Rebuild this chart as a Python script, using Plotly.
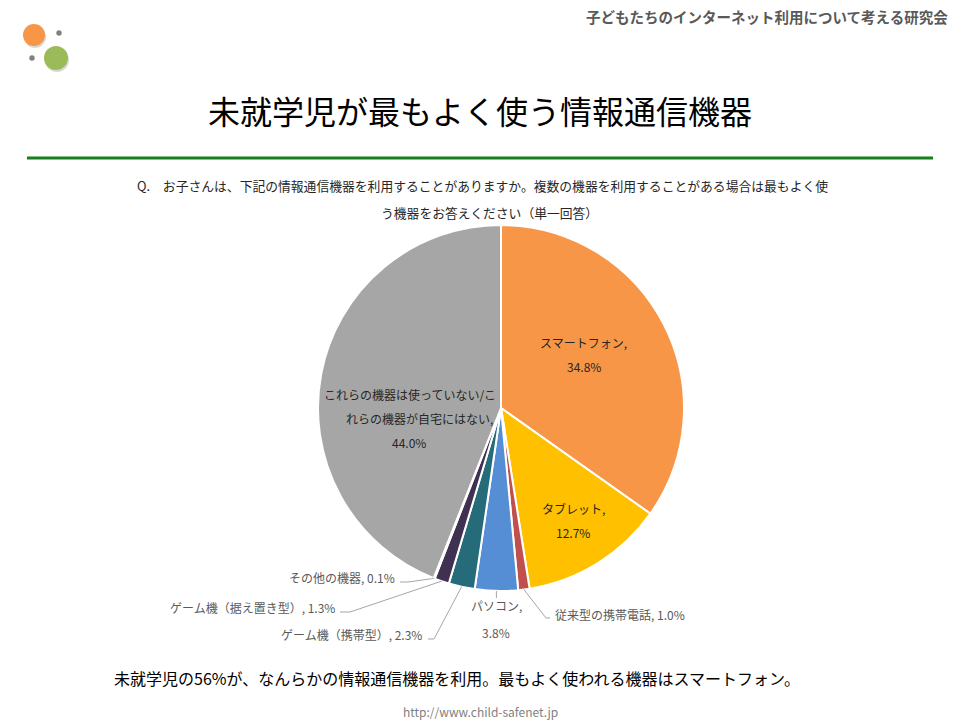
import math
import plotly.graph_objects as go

W, H = 960, 720
FONT = "Noto Sans CJK JP"

# ---- data ----
labels = ["スマートフォン", "タブレット", "従来型の携帯電話", "パソコン",
          "ゲーム機（携帯型）", "ゲーム機（据え置き型）", "その他の機器",
          "これらの機器は使っていない/これらの機器が自宅にはない"]
values = [34.8, 12.7, 1.0, 3.8, 2.3, 1.3, 0.1, 44.0]
colors = ["#F79646", "#FFC000", "#C0504D", "#558ED5", "#266B7A", "#403152", "#7F7F7F", "#A6A6A6"]

title = "未就学児が最もよく使う情報通信機器"
question = ["Q.　お子さんは、下記の情報通信機器を利用することがありますか。複数の機器を利用することがある場合は最もよく使",
            "う機器をお答えください（単一回答）"]
org = "子どもたちのインターネット利用について考える研究会"
footer = "未就学児の56%が、なんらかの情報通信機器を利用。最もよく使われる機器はスマートフォン。"
url = "http://www.child-safenet.jp"

# ---- geometry (pixels) ----
CX, CY, R = 501, 408, 183


def px(x):
    return x / W


def py(y):
    return 1 - y / H


fig = go.Figure(go.Pie(
    labels=labels, values=values, sort=False, direction="clockwise", rotation=0,
    marker=dict(colors=colors, line=dict(color="white", width=2)),
    textinfo="none", hoverinfo="label+value", showlegend=False,
    domain=dict(x=[px(CX - R), px(CX + R)], y=[py(CY + R), py(CY - R)]),
))

ann = []


def text(x, y, s, size=12, color="#262626", xanchor="center", bold=False):
    if bold:
        s = "<b>" + s + "</b>"
    ann.append(dict(x=px(x), y=py(y), xref="paper", yref="paper", text=s, showarrow=False,
                    xanchor=xanchor, yanchor="middle",
                    font=dict(family=FONT, size=size, color=color)))


def pct(v):
    return f"{v:.1f}%"


# inside labels
text(583, 342, labels[0] + ",")
text(584, 366, pct(values[0]))
text(573, 508, labels[1] + ",")
text(573, 532, pct(values[1]))
text(410, 394, "これらの機器は使っていない/こ")
text(419, 418, "れらの機器が自宅にはない,")
text(409, 442, pct(values[7]))

# outside labels
OUT = "#595959"
text(553, 614, labels[2] + ", " + pct(values[2]), color=OUT, xanchor="left")
text(496, 605, labels[3] + ",", color=OUT)
text(496, 632, pct(values[3]), color=OUT)
text(424, 634, labels[4] + ", " + pct(values[4]), color=OUT, xanchor="right")
text(337, 607, labels[5] + ", " + pct(values[5]), color=OUT, xanchor="right")
text(397, 577, labels[6] + ", " + pct(values[6]), color=OUT, xanchor="right")

# slice edge points from data
cum = 0
edge = []
for v in values:
    mid = (cum + v / 2) / sum(values) * 2 * math.pi
    edge.append((CX + R * math.sin(mid), CY - R * math.cos(mid)))
    cum += v

shapes = []


def poly(pts, color="#A6A6A6", width=1):
    path = "M " + " L ".join(f"{px(x)},{py(y)}" for x, y in pts)
    shapes.append(dict(type="path", path=path, xref="paper", yref="paper",
                       line=dict(color=color, width=width)))


poly([edge[2], (546, 618), (550, 618)])
poly([edge[3], (edge[3][0], 598)])
poly([edge[4], (434, 639), (428, 639)])
poly([edge[5], (350, 612), (340, 612)])
poly([edge[6], (408, 582), (400, 582)])

# header / titles
text(950, 16, org, size=14.5, color="#595959", xanchor="right", bold=True)
text(480, 110, title, size=32, color="#000000")
text(482, 186, question[0], size=12.8, color="#262626")
text(490, 212, question[1], size=12.8, color="#262626")
text(112, 678, footer, size=16, color="#000000", xanchor="left")
text(480, 711, url, size=12, color="#7F7F7F")

# green rule
shapes.append(dict(type="line", xref="paper", yref="paper", x0=px(27), x1=px(933),
                   y0=py(158), y1=py(158), line=dict(color="#16801A", width=3)))


# logo
def circle(x, y, r, color):
    shapes.append(dict(type="circle", xref="paper", yref="paper",
                       x0=px(x - r), x1=px(x + r), y0=py(y + r), y1=py(y - r),
                       fillcolor=color, line=dict(width=0)))


circle(35, 37, 11, "#D9D9D9")
circle(57, 60, 12, "#D9D9D9")
circle(34, 35, 11, "#F79646")
circle(56, 58, 12, "#9BBB59")
circle(59, 33, 2.7, "#808080")
circle(32, 58, 2.7, "#808080")

fig.update_layout(width=W, height=H, margin=dict(l=0, r=0, t=0, b=0),
                  paper_bgcolor="white", plot_bgcolor="white",
                  annotations=ann, shapes=shapes)

fig.write_html("out.html", config={"displayModeBar": False},
               post_script="document.body.style.margin='0';document.body.style.overflow='hidden';")
